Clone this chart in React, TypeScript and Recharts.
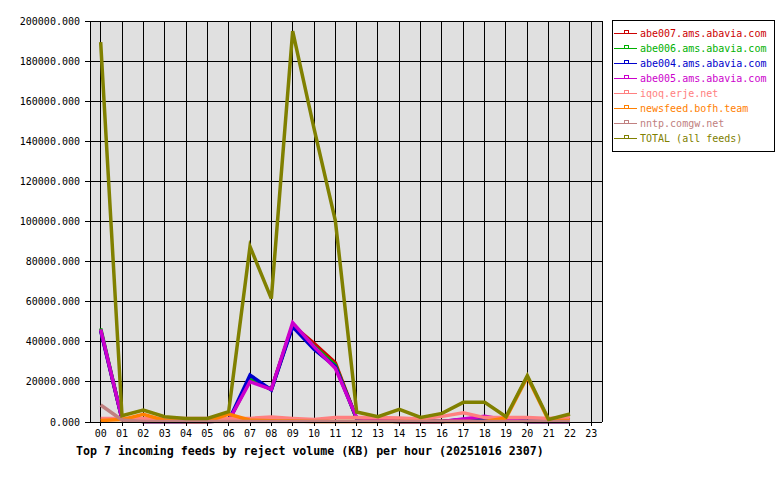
import { LineChart, Line, XAxis, YAxis, CartesianGrid, Legend, Customized } from "recharts";

const hours = [
  "00", "01", "02", "03", "04", "05", "06", "07", "08", "09", "10", "11",
  "12", "13", "14", "15", "16", "17", "18", "19", "20", "21", "22", "23",
];

// reject volume (KB) per hour
const abe007 = [45800, 1500, 300, 200, 200, 200, 600, 21000, 16300, 48300, 39300, 29600, 1500, 600, 300, 200, 200, 1000, 2000, 1200, 300, 200, 200, null];
const abe006 = [46700, 1500, 300, 200, 200, 200, 600, 21300, 16300, 48300, 37900, 28400, 1500, 600, 300, 200, 200, 1000, 2000, 1000, 300, 200, 200, null];
const abe004 = [45500, 1400, 300, 200, 200, 200, 600, 23400, 16000, 47500, 36300, 27600, 1800, 600, 300, 200, 200, 1200, 1000, 800, 300, 200, 200, null];
const abe005 = [46200, 1500, 300, 200, 200, 200, 600, 20100, 16300, 49500, 37600, 26800, 2200, 1300, 300, 200, 200, 1500, 2800, 1000, 300, 200, 200, null];
const iqoq = [1800, 1800, 1800, 1800, 1800, 1800, 1800, 1800, 2500, 1800, 1200, 2300, 2300, 2300, 2000, 1500, 2800, 4600, 2200, 2300, 2300, 1800, 2500, null];
const newsfeed = [800, 1200, 3800, 800, 300, 300, 3900, 900, 600, 500, 300, 300, 300, 300, 300, 300, 300, 300, 300, 2000, 22500, 700, 700, null];
const nntp = [8500, 1000, 300, 200, 200, 200, 200, 200, 200, 200, 200, 200, 200, 200, 200, 200, 200, 200, 200, 200, 200, 200, 200, null];
const total = [189500, 3100, 6000, 2600, 1800, 1800, 5100, 87500, 61500, 195000, 146500, 100500, 5000, 2700, 6300, 2300, 4300, 9800, 9800, 2600, 23100, 1300, 4000, null];

const yTicks = [0, 20000, 40000, 60000, 80000, 100000, 120000, 140000, 160000, 180000, 200000];

const title = "Top 7 incoming feeds by reject volume (KB) per hour (20251016 2307)";

const series = [
  { key: "abe007", name: "abe007.ams.abavia.com", color: "#cc0000", values: abe007 },
  { key: "abe006", name: "abe006.ams.abavia.com", color: "#00b000", values: abe006 },
  { key: "abe004", name: "abe004.ams.abavia.com", color: "#0000cc", values: abe004 },
  { key: "abe005", name: "abe005.ams.abavia.com", color: "#cc00cc", values: abe005 },
  { key: "iqoq", name: "iqoq.erje.net", color: "#ff8080", values: iqoq },
  { key: "newsfeed", name: "newsfeed.bofh.team", color: "#ff8000", values: newsfeed },
  { key: "nntp", name: "nntp.comgw.net", color: "#c08080", values: nntp },
  { key: "total", name: "TOTAL (all feeds)", color: "#808000", values: total },
];

const data = hours.map((h, i) => {
  const row: Record<string, string | number | null> = { hour: h };
  series.forEach((s) => {
    row[s.key] = s.values[i];
  });
  return row;
});

const mono = "'DejaVu Sans Mono', monospace";
const tickStyle = { fontSize: 10, fill: "#000", fontFamily: mono };

function FeedLegend() {
  return (
    <svg width={164} height={133} style={{ display: "block" }}>
      <rect x={0.5} y={0.5} width={162} height={131} fill="#fff" stroke="#000" shapeRendering="crispEdges" />
      {series.map((s, i) => {
        const y = 13.5 + i * 15;
        return (
          <g key={s.key} shapeRendering="crispEdges">
            <line x1={2} x2={25} y1={y} y2={y} stroke={s.color} />
            <rect x={12.5} y={y - 3} width={4} height={3} fill="none" stroke={s.color} />
            <text x={28} y={y} dy="0.35em" fontSize={10} fill={s.color} fontFamily={mono}>
              {s.name}
            </text>
          </g>
        );
      })}
    </svg>
  );
}

export default function App() {
  return (
    <div style={{ position: "absolute", left: 0, top: 0, width: 780, height: 480, background: "#fff" }}>
      <LineChart width={780} height={480} data={data} margin={{ top: 21, right: 178, bottom: 28, left: 0 }}>
        <CartesianGrid stroke="#000" strokeOpacity={1} fill="#e0e0e0" fillOpacity={1} shapeRendering="crispEdges" />
        <XAxis
          dataKey="hour"
          interval={0}
          height={30}
          padding={{ left: 10.67, right: 10.67 }}
          tickSize={4}
          tickMargin={4}
          tick={tickStyle}
          axisLine={{ stroke: "#000", shapeRendering: "crispEdges" }}
          tickLine={{ stroke: "#000", shapeRendering: "crispEdges" }}
        />
        <YAxis
          width={90}
          domain={[0, 200000]}
          ticks={yTicks}
          tickFormatter={(v: number) => v.toFixed(3)}
          tickSize={5}
          tickMargin={5}
          tick={tickStyle}
          axisLine={{ stroke: "#000", shapeRendering: "crispEdges" }}
          tickLine={{ stroke: "#000", shapeRendering: "crispEdges" }}
        />
        <YAxis yAxisId="right" orientation="right" width={0} tick={false} tickLine={false} axisLine={{ stroke: "#000", shapeRendering: "crispEdges" }} />
        <Legend
          layout="vertical"
          align="center"
          verticalAlign="middle"
          wrapperStyle={{ left: 612, top: 20, width: 164 }}
          content={() => <FeedLegend />}
        />
        {series.map((s) => (
          <Line
            key={s.key}
            dataKey={s.key}
            name={s.name}
            type="linear"
            stroke={s.color}
            strokeWidth={3.5}
            dot={false}
            activeDot={false}
            isAnimationActive={false}
          />
        ))}
        <Customized
          component={() => (
            <text x={76} y={455} fontSize={11.6} fontWeight="bold" fontFamily={mono} fill="#000">
              {title}
            </text>
          )}
        />
      </LineChart>
    </div>
  );
}
